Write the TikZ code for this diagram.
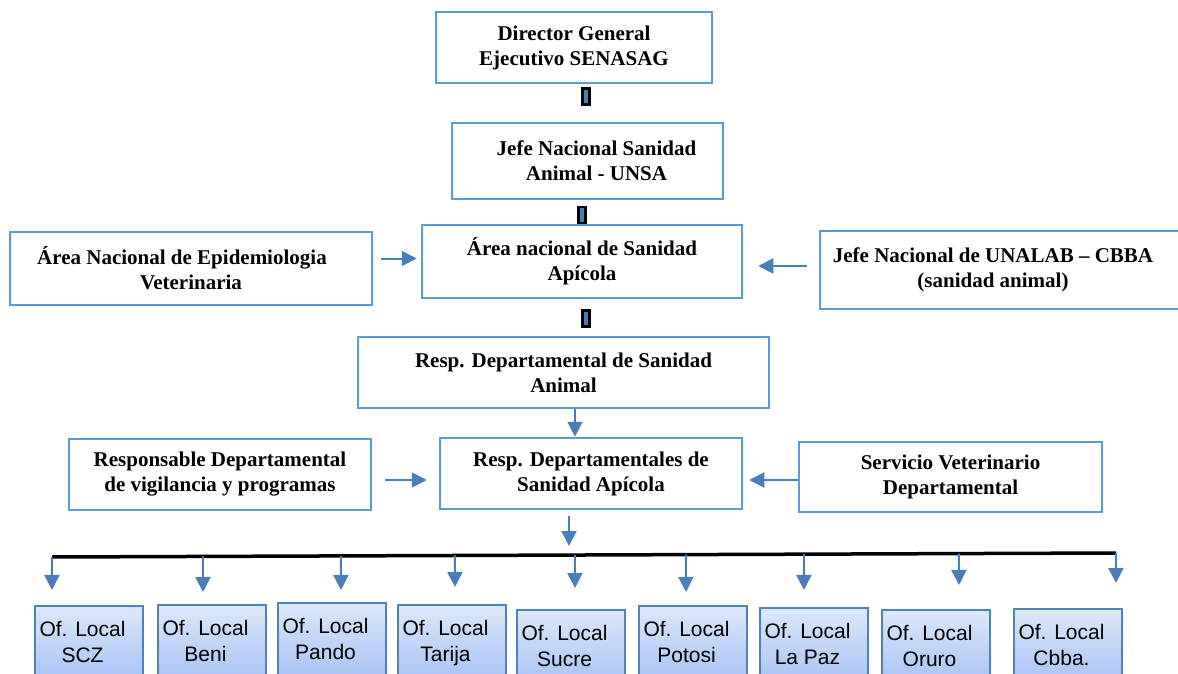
\documentclass[tikz,border=0pt]{standalone}
\usepackage{fontspec}
\setmainfont{Liberation Serif}
\newfontfamily\officefont{Liberation Sans}
\usetikzlibrary{arrows.meta, calc}

\definecolor{boxblue}{HTML}{5B9BD5}
\definecolor{arrowblue}{HTML}{4A7EBB}
\definecolor{officeline}{HTML}{4F81BD}
\definecolor{officetop}{HTML}{DDE8FA}
\definecolor{officebottom}{HTML}{A9C4F4}

\begin{document}
\begin{tikzpicture}[x=1pt,y=-1pt,>={Triangle[length=15pt,width=15pt]},
  unit box/.style={draw=boxblue,line width=2.5pt,fill=white,align=center,inner sep=0pt,
    font=\fontsize{21}{25}\selectfont\bfseries},
  link/.style={draw=black,fill=arrowblue,line width=2.5pt,minimum width=7pt,
    minimum height=16pt,inner sep=0pt},
  flow/.style={->,draw=arrowblue,line width=2pt},
  office/.style={draw=officeline,line width=1.5pt,top color=officetop,bottom color=officebottom,
    minimum width=108pt,minimum height=72pt,anchor=north,inner sep=0pt,
    font=\officefont\fontsize{21}{26}\selectfont}]
  \useasboundingbox (0,0) rectangle (1178,674);
  \clip (0,0) rectangle (1178,674);

  % national level
  \node[unit box, minimum width=276pt, minimum height=71pt] (director) at (574,47.5)
    {Director General\\Ejecutivo SENASAG};
  \node[unit box, minimum width=271pt, minimum height=76pt] (unsa) at (587.5,161)
    {\hspace*{18pt}Jefe Nacional Sanidad\\\hspace*{18pt}Animal - UNSA};
  \node[unit box, minimum width=320pt, minimum height=73pt] (apicola) at (582,261.5)
    {Área nacional de Sanidad\\Apícola};
  \node[unit box, minimum width=362pt, minimum height=73pt] (epidem) at (191,268.5)
    {Área Nacional de Epidemiologia\hspace*{18pt}\\Veterinaria};
  \node[unit box, minimum width=366pt, minimum height=78pt] (unalab) at (1003,270)
    {Jefe Nacional de UNALAB -- CBBA\hspace*{20pt}\\(sanidad animal)\hspace*{20pt}};
  \node[link] (link1) at (586,96.5) {};
  \node[link] (link2) at (582,215) {};
  \node[link] (link3) at (586,318.5) {};

  % departmental level
  \node[unit box, minimum width=411pt, minimum height=71pt] (animal) at (563.5,372.5)
    {Resp. Departamental de Sanidad\\Animal};
  \node[unit box, minimum width=302pt, minimum height=71pt] (depto) at (591,473.5)
    {Resp. Departamentales de\\Sanidad Apícola};
  \node[unit box, minimum width=302pt, minimum height=71pt] (vigil) at (220,474.5)
    {Responsable Departamental\\de vigilancia y programas};
  \node[unit box, minimum width=303pt, minimum height=70pt] (servicio) at (950.5,477)
    {Servicio Veterinario\\Departamental};

  \draw[flow, shorten <=8pt, shorten >=4pt] ([yshift=10pt]epidem.east) -- ([yshift=10pt]epidem.east -| apicola.west);
  \draw[flow, shorten <=12pt, shorten >=15pt] ([yshift=4pt]unalab.west) -- ([yshift=4pt]unalab.west -| apicola.east);
  \draw[flow] ([xshift=-16pt]depto.north |- animal.south) -- ([xshift=-16pt]depto.north);
  \draw[flow, shorten <=13pt, shorten >=12pt] ([yshift=-5.5pt]vigil.east) -- ([yshift=-5.5pt]vigil.east -| depto.west);
  \draw[flow, shorten >=6pt] ([yshift=-3pt]servicio.west) -- ([yshift=-3pt]servicio.west -| depto.east);

  % local offices
  \coordinate (barL) at (52,557);
  \coordinate (barR) at (1116,553);
  \coordinate (drop) at (569,546);
  \draw[flow, shorten <=6pt] ([xshift=-22pt]depto.south) -- ([xshift=-22pt]depto.south |- drop);
  \draw[line width=3.5pt] (barL) -- (barR);
  \foreach \id/\lx/\ty/\place/\ax/\ay in {scz/35/605/SCZ/52/590, beni/158/604/Beni/203/592,
      pando/278/602/Pando/341/590, tarija/398/604/Tarija/455/587, sucre/517/609/Sucre/575/588,
      potosi/639/605/Potosi/686/592, lapaz/760/607/La Paz/804/590, oruro/882/609/Oruro/959/585,
      cbba/1014/608/Cbba./1116/583}{
    \node[office] (\id) at (\lx+54,\ty)
      {\raisebox{-3pt}[\height][\depth]{\begin{tabular}{@{}c@{}}Of. Local\\\place\end{tabular}}\hspace*{13pt}};
    \coordinate (\id tip) at (\ax,\ay);
    \draw[flow] ($(barL)!(\id tip)!(barR)$) -- (\id tip);
  }
\end{tikzpicture}
\end{document}
